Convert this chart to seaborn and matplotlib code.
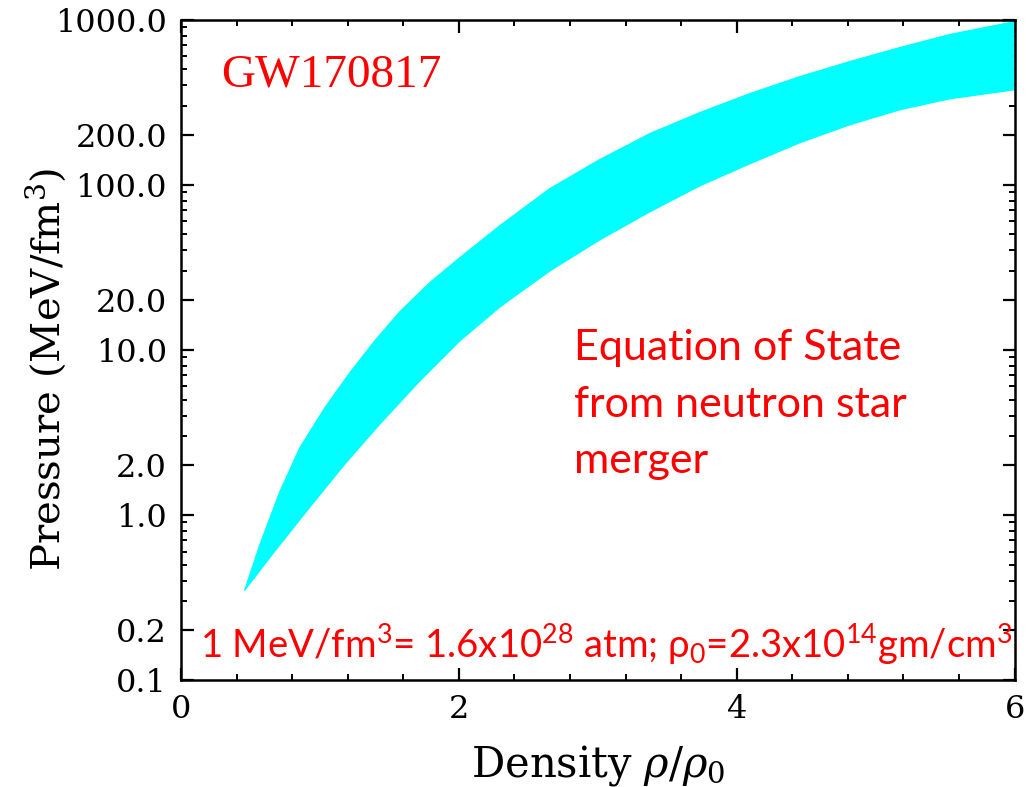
import numpy as np
import pandas as pd
import matplotlib
matplotlib.use("Agg")
import matplotlib.pyplot as plt
import seaborn as sns

# Upper (stiff) boundary of the band
x_upper = [0.460, 0.568, 0.712, 0.856, 1.036, 1.216, 1.396, 1.576, 1.791, 2.007, 2.295,
           2.655, 3.014, 3.374, 3.734, 4.094, 4.453, 4.813, 5.173, 5.532, 6.0]
p_upper = [0.351, 0.658, 1.379, 2.547, 4.45, 7.26, 11.34, 17.0, 25.5, 36.1, 56.4,
           94.6, 141.8, 203.8, 273.2, 356, 451, 556.6, 676.6, 811.5, 972.5]
# Lower (soft) boundary of the band
x_lower = [0.460, 0.676, 0.928, 1.180, 1.432, 1.719, 2.007, 2.295, 2.655, 3.014, 3.374,
           3.734, 4.094, 4.453, 4.813, 5.173, 5.532, 6.0]
p_lower = [0.351, 0.605, 1.118, 2.038, 3.56, 6.49, 11.34, 18.2, 30.1, 46.4, 68.6,
           98.6, 134.1, 179.7, 231, 284.8, 332, 376.6]

y_ticks = [0.1, 0.2, 1.0, 2.0, 10.0, 20.0, 100.0, 200.0, 1000.0]
y_ticklabels = ["0.1", "0.2", "1.0", "2.0", "10.0", "20.0", "100.0", "200.0", "1000.0"]
x_ticks = [0, 2, 4, 6]

sns.set_theme(style="ticks")
plt.rcParams["font.family"] = ["DejaVu Serif", "DejaVu Sans"]
plt.rcParams["mathtext.fontset"] = "custom"
plt.rcParams["mathtext.rm"] = "Lato"
plt.rcParams["mathtext.it"] = "Lato:italic"

fig = plt.figure(figsize=(10.28, 7.87), dpi=100)
ax = fig.add_axes([0.176, 0.136, 0.811, 0.839])

band_color = "#00FFFF"
poly_x = np.concatenate([x_upper, x_lower[::-1]])
poly_y = np.concatenate([p_upper, p_lower[::-1]])
ax.fill(poly_x, poly_y, color=band_color, lw=0)

df_up = pd.DataFrame({"x": x_upper, "p": p_upper})
df_lo = pd.DataFrame({"x": x_lower, "p": p_lower})
sns.lineplot(data=df_up, x="x", y="p", ax=ax, color=band_color, lw=1, sort=False)
sns.lineplot(data=df_lo, x="x", y="p", ax=ax, color=band_color, lw=1, sort=False)

ax.set_yscale("log")
ax.set_xlim(0, 6)
ax.set_ylim(0.1, 1000)

ax.set_yticks(y_ticks)
ax.set_yticklabels(y_ticklabels)
minor_y = [m * 10.0 ** e for e in range(-1, 3) for m in range(3, 10)]
ax.set_yticks(minor_y, minor=True)
ax.yaxis.set_minor_formatter(matplotlib.ticker.NullFormatter())
ax.set_xticks(x_ticks)
ax.set_xticklabels([str(v) for v in x_ticks])
ax.set_xticks(np.arange(0, 6.01, 0.4), minor=True)

for s in ax.spines.values():
    s.set_linewidth(1.8)
    s.set_color("black")
    s.set_visible(True)

ax.tick_params(which="both", direction="in", top=True, right=True, color="black")
ax.tick_params(which="major", length=9, width=1.6, labelsize=23, pad=10,
               labelcolor="black")
ax.tick_params(which="minor", length=4.5, width=1.4)
ax.tick_params(axis="x", which="major", pad=10)

ax.set_xlabel(r"Density $\rho/\rho_0$", fontsize=30, labelpad=13,
              math_fontfamily="dejavuserif", color="black")
ax.set_ylabel(r"Pressure (MeV/fm$^3$)", fontsize=29,
              math_fontfamily="dejavuserif", color="black")
ax.yaxis.set_label_coords(-0.135, 0.47)

ax.text(0.29, 460, "GW170817", color="red", fontsize=34,
        family=["Liberation Serif"], va="center", ha="left")

ax.text(2.83, 4.64, "Equation of State\nfrom neutron star\nmerger", color="red",
        fontsize=31, family=["Lato", "DejaVu Sans"], va="center", ha="left",
        linespacing=1.6)

ax.text(0.14, 0.165,
        r"1 MeV/fm$^3$= 1.6x10$^{28}$ atm; ρ$_0$=2.3x10$^{14}$gm/cm$^3$",
        color="red", fontsize=27.5, family=["Lato", "DejaVu Sans"],
        va="center", ha="left")

fig.savefig("out.png", dpi=100)
